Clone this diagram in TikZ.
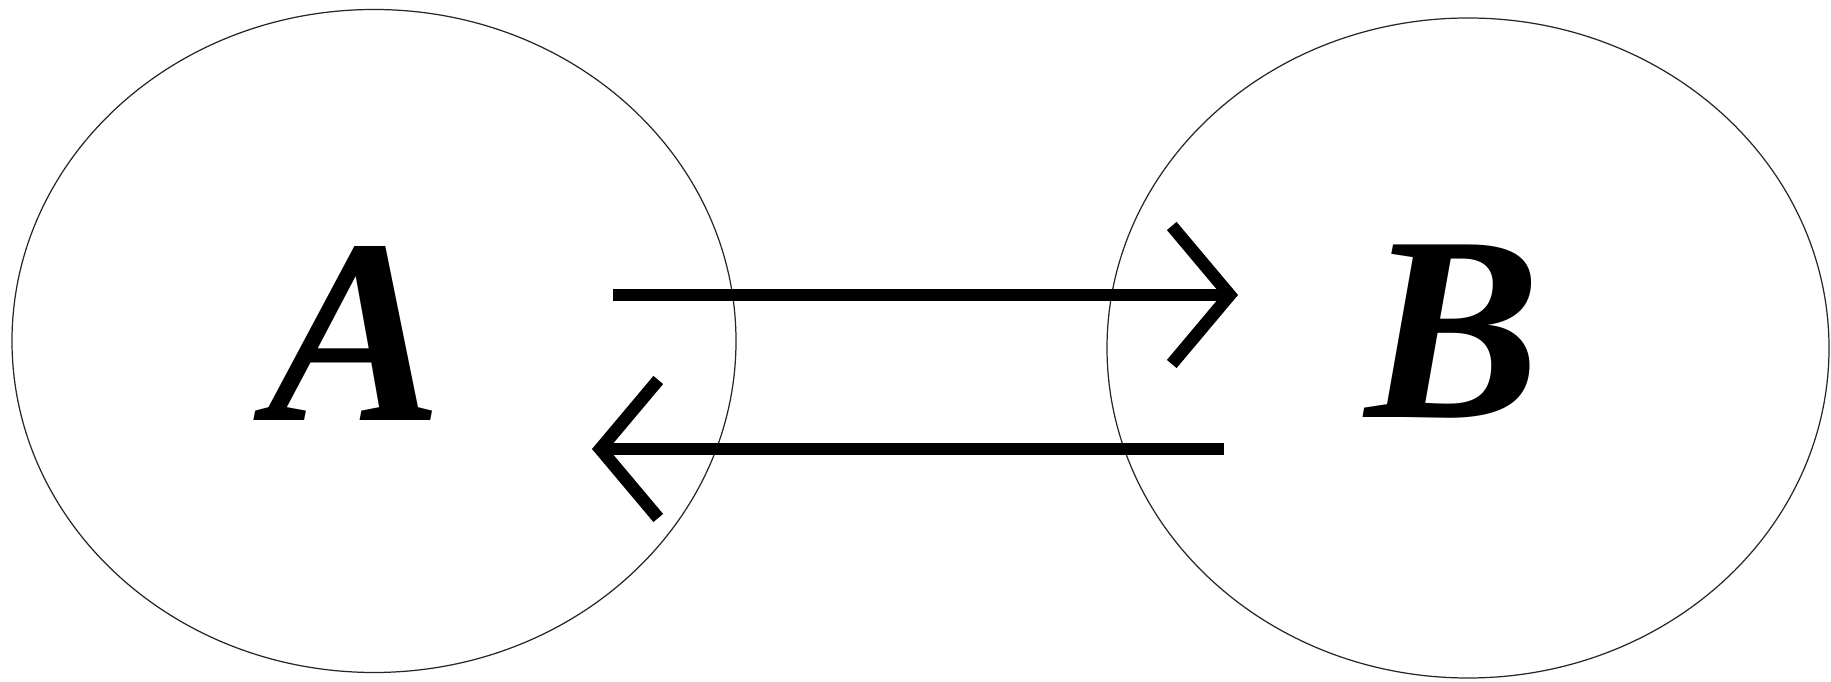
\documentclass[tikz,border=0pt]{standalone}
\usepackage{fontspec}
\setmainfont{Liberation Serif}
\usetikzlibrary{arrows.meta,shapes.geometric,positioning}

\begin{document}
\begin{tikzpicture}[>={Straight Barb[length=0.58cm, width=1.38cm]},
    every node/.style={font=\fontsize{75}{75}\selectfont\bfseries\itshape},
    setnode/.style={draw=black!85, ellipse, line width=0.35pt, inner sep=0pt},
    flow/.style={->, line width=3.6pt}]
    \useasboundingbox (0, 0) rectangle (18.31, 6.82);
    \node[setnode, minimum width=7.24cm, minimum height=6.63cm] (setA) at (3.74, 3.41) {};
    \node[setnode, minimum width=7.22cm, minimum height=6.60cm] (setB) at (14.68, 3.34) {};
    \node (A) at (3.55, 3.48) {A};
    \node (B) at (14.53, 3.50) {B};
    \coordinate (a1) at (6.13, 3.87);
    \coordinate (b1) at (12.38, 3.87);
    \coordinate (b2) at (12.24, 2.33);
    \coordinate (a2) at (5.92, 2.33);
    \draw[flow] (a1) -- (b1);
    \draw[flow] (b2) -- (a2);
  \end{tikzpicture}
\end{document}
